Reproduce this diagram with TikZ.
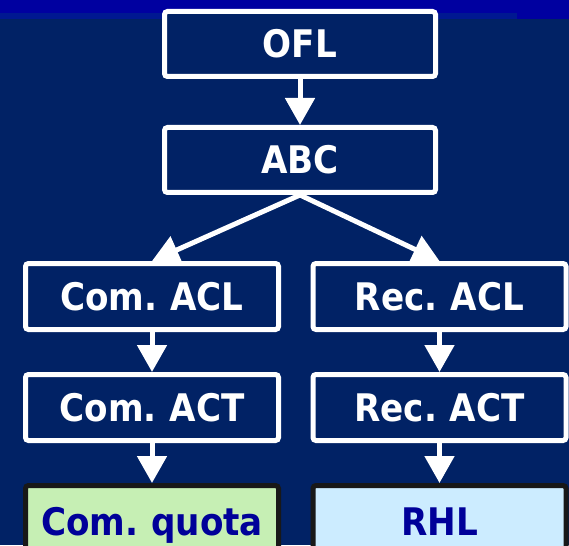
\documentclass[tikz,border=0pt]{standalone}
\usepackage{fontspec}
\newfontfamily\boxfont{DejaVu Sans}[FakeStretch=0.9,WordSpace=0.75]
\usetikzlibrary{arrows.meta}
\definecolor{bgnavy}{RGB}{1,34,101}
\definecolor{topblue}{RGB}{0,0,160}
\definecolor{stripblue}{RGB}{0,24,145}
\definecolor{edgegray}{RGB}{24,24,24}
\definecolor{darktext}{RGB}{0,0,153}
\definecolor{quotagreen}{RGB}{198,239,180}
\definecolor{rhlblue}{RGB}{204,236,255}
\begin{document}
\begin{tikzpicture}[x=1pt,y=-1pt,
  box/.style={rectangle, draw=white, fill=bgnavy, line width=5pt, rounded corners=3pt,
    inner sep=0pt, font=\boxfont\bfseries\fontsize{38}{40}\selectfont, text=white,
    text height=28pt, text depth=0pt},
  topbox/.style={box, minimum width=271pt, minimum height=65pt},
  midbox/.style={box, minimum width=253pt, minimum height=66pt},
  endbox/.style={midbox, draw=edgegray, text=darktext, minimum height=71pt},
  flow/.style={draw=white, line width=5pt, -{Triangle[length=27pt,width=29pt]}}
]
\useasboundingbox (0,0) rectangle (569,545);
\clip (0,0) rectangle (569,545);
\fill[bgnavy] (0,0) rectangle (569,545);
\fill[topblue] (0,0) rectangle (569,19);
\fill[stripblue] (0,13.5) rectangle (517,19);

\node[topbox] (ofl) at (300,44) {OFL};
\node[topbox] (abc) at (300,160) {ABC};
\node[midbox] (comacl) at (152,296.5) {Com. ACL};
\node[midbox] (recacl) at (439.5,296.5) {Rec. ACL};
\node[midbox] (comact) at (152,407.5) {Com. ACT};
\node[midbox] (recact) at (439.5,407.5) {Rec. ACT};
\node[endbox, fill=quotagreen] (quota) at (152,521) {Com. quota};
\node[endbox, fill=rhlblue] (rhl) at (439.5,521) {RHL};

\draw[flow] (ofl.south) -- (abc.north);
\draw[flow] (abc.south) -- (comacl.north);
\draw[flow] (abc.south) -- (recacl.north);
\draw[flow] (comacl.south) -- (comact.north);
\draw[flow] (recacl.south) -- (recact.north);
\draw[flow] (comact.south) -- (quota.north);
\draw[flow] (recact.south) -- (rhl.north);
\end{tikzpicture}
\end{document}
